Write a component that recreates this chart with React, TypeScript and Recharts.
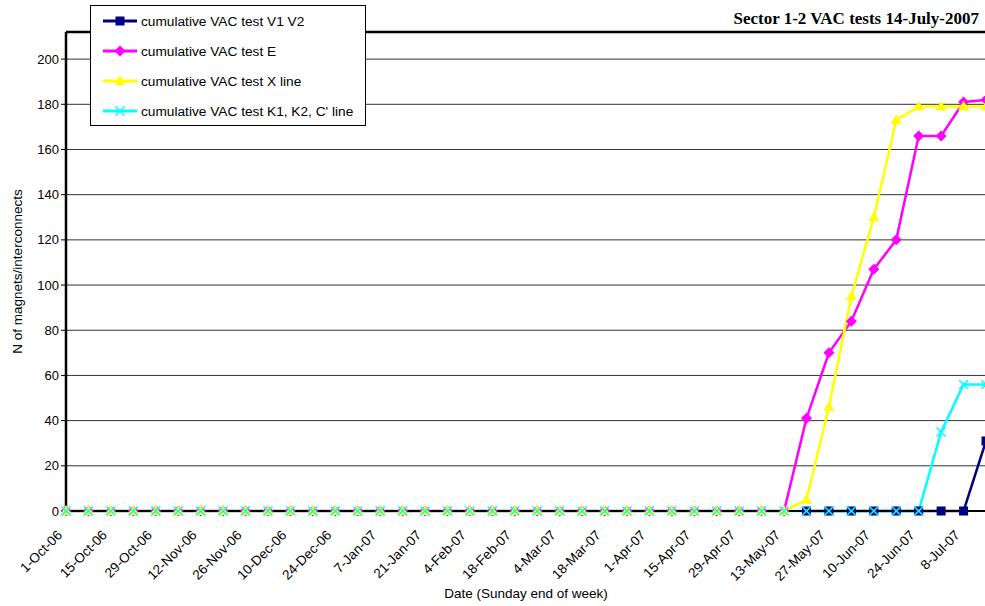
import React from "react";
import {
  LineChart,
  Line,
  XAxis,
  YAxis,
  CartesianGrid,
  ReferenceLine,
} from "recharts";

// weekly dates (Sunday end of week)
const weeks = [
  "1-Oct-06", "8-Oct-06", "15-Oct-06", "22-Oct-06", "29-Oct-06", "5-Nov-06",
  "12-Nov-06", "19-Nov-06", "26-Nov-06", "3-Dec-06", "10-Dec-06", "17-Dec-06",
  "24-Dec-06", "31-Dec-06", "7-Jan-07", "14-Jan-07", "21-Jan-07", "28-Jan-07",
  "4-Feb-07", "11-Feb-07", "18-Feb-07", "25-Feb-07", "4-Mar-07", "11-Mar-07",
  "18-Mar-07", "25-Mar-07", "1-Apr-07", "8-Apr-07", "15-Apr-07", "22-Apr-07",
  "29-Apr-07", "6-May-07", "13-May-07", "20-May-07", "27-May-07", "3-Jun-07",
  "10-Jun-07", "17-Jun-07", "24-Jun-07", "1-Jul-07", "8-Jul-07", "15-Jul-07",
];

const z = (n: number) => new Array(n).fill(0);
const nulls = (n: number) => new Array(n).fill(null);

const v1v2 = [...nulls(33), 0, 0, 0, 0, 0, 0, 0, 0, 31];
const testE = [...z(33), 41, 70, 84, 107, 120, 166, 166, 181, 182];
const xLine = [...z(33), 5, 46, 95, 130, 173, 179, 179, 179, 179];
const k1k2 = [...z(39), 35, 56, 56];

const yTicks = [0, 20, 40, 60, 80, 100, 120, 140, 160, 180, 200];
const yMax = 212;

const series = [
  { key: "v1v2", name: "cumulative VAC test V1 V2", color: "#000080", shape: "square" },
  { key: "e", name: "cumulative VAC test E", color: "#FF00FF", shape: "diamond" },
  { key: "x", name: "cumulative VAC test X line", color: "#FFFF00", shape: "triangle" },
  { key: "k", name: "cumulative VAC test K1, K2, C' line", color: "#00FFFF", shape: "cross" },
];

const data = weeks.map((w, i) => ({
  week: w,
  v1v2: v1v2[i],
  e: testE[i],
  x: xLine[i],
  k: k1k2[i],
}));

function Marker({ cx, cy, shape, color }: any) {
  if (cx == null || cy == null || isNaN(cy)) return null;
  if (shape === "square")
    return <rect x={cx - 4.5} y={cy - 4.5} width={9} height={9} fill={color} />;
  if (shape === "diamond")
    return (
      <polygon
        points={`${cx},${cy - 5.5} ${cx + 5.5},${cy} ${cx},${cy + 5.5} ${cx - 5.5},${cy}`}
        fill={color}
      />
    );
  if (shape === "triangle")
    return (
      <polygon
        points={`${cx},${cy - 6} ${cx + 5.5},${cy + 4} ${cx - 5.5},${cy + 4}`}
        fill={color}
      />
    );
  return (
    <g stroke={color} strokeWidth={1.5}>
      <line x1={cx - 4.5} y1={cy - 4.5} x2={cx + 4.5} y2={cy + 4.5} />
      <line x1={cx - 4.5} y1={cy + 4.5} x2={cx + 4.5} y2={cy - 4.5} />
    </g>
  );
}

function XTick({ x, y, payload }: any) {
  const ax = x - 3;
  const ay = y + 17;
  return (
    <text
      x={ax}
      y={ay}
      transform={`rotate(-45 ${ax} ${ay})`}
      textAnchor="end"
      fontSize={13.5}
      fontFamily="Liberation Sans, Arial, sans-serif"
      fill="#000"
    >
      {payload.value}
    </text>
  );
}

function LegendIcon({ s }: any) {
  return (
    <svg width={34} height={12} style={{ marginRight: 4, flexShrink: 0 }}>
      <line x1={0} y1={6} x2={34} y2={6} stroke={s.color} strokeWidth={3} />
      <Marker cx={17} cy={6} shape={s.shape} color={s.color} />
    </svg>
  );
}

export default function App() {
  const font = "Liberation Sans, Arial, sans-serif";
  return (
    <div
      style={{
        position: "absolute",
        left: 0,
        top: 0,
        width: 985,
        height: 606,
        overflow: "hidden",
        background: "#fff",
        fontFamily: font,
      }}
    >
      <LineChart
        width={990}
        height={606}
        data={data}
        margin={{ top: 32, right: 4, bottom: 0, left: 0 }}
      >
        <CartesianGrid vertical={false} stroke="#333" strokeWidth={1} />
        <XAxis
          dataKey="week"
          interval={1}
          tick={<XTick />}
          tickLine={false}
          axisLine={{ stroke: "#000", strokeWidth: 2 }}
          height={95}
          label={{
            value: "Date (Sunday end of week)",
            position: "insideBottom",
            offset: 8,
            fontSize: 13.5,
            fontFamily: font,
            fill: "#000",
          }}
        />
        <YAxis
          domain={[0, yMax]}
          ticks={yTicks}
          width={66}
          tickLine={{ stroke: "#000" }}
          tickSize={5}
          axisLine={{ stroke: "#000", strokeWidth: 2.5 }}
          tick={{ fontSize: 13, fontFamily: font, fill: "#000" }}
          label={{
            value: "N of magnets/interconnects",
            angle: -90,
            position: "insideLeft",
            offset: 17,
            style: { textAnchor: "middle" },
            fontSize: 13.5,
            fontFamily: font,
            fill: "#000",
          }}
        />
        <ReferenceLine y={yMax} stroke="#000" strokeWidth={2.5} />
        {series.map((s) => (
          <Line
            key={s.key}
            dataKey={s.key}
            name={s.name}
            stroke={s.color}
            strokeWidth={2.5}
            type="linear"
            isAnimationActive={false}
            dot={(p: any) => (
              <Marker key={`${s.key}-${p.index}`} cx={p.cx} cy={p.cy} shape={s.shape} color={s.color} />
            )}
            activeDot={false}
          />
        ))}
      </LineChart>

      <div
        style={{
          position: "absolute",
          left: 90,
          top: 5,
          width: 276,
          height: 121,
          border: "1px solid #000",
          background: "#fff",
          boxSizing: "border-box",
          padding: "0 0 0 12px",
        }}
      >
        {series.map((s) => (
          <div
            key={s.key}
            style={{ display: "flex", alignItems: "center", height: 30, fontSize: 13.7, whiteSpace: "nowrap" }}
          >
            <LegendIcon s={s} />
            <span>{s.name}</span>
          </div>
        ))}
      </div>

      <div
        style={{
          position: "absolute",
          right: 6,
          top: 9,
          fontFamily: "Liberation Serif, Times New Roman, serif",
          fontWeight: "bold",
          fontSize: 17,
          lineHeight: "20px",
        }}
      >
        Sector 1-2 VAC tests 14-July-2007
      </div>
    </div>
  );
}
